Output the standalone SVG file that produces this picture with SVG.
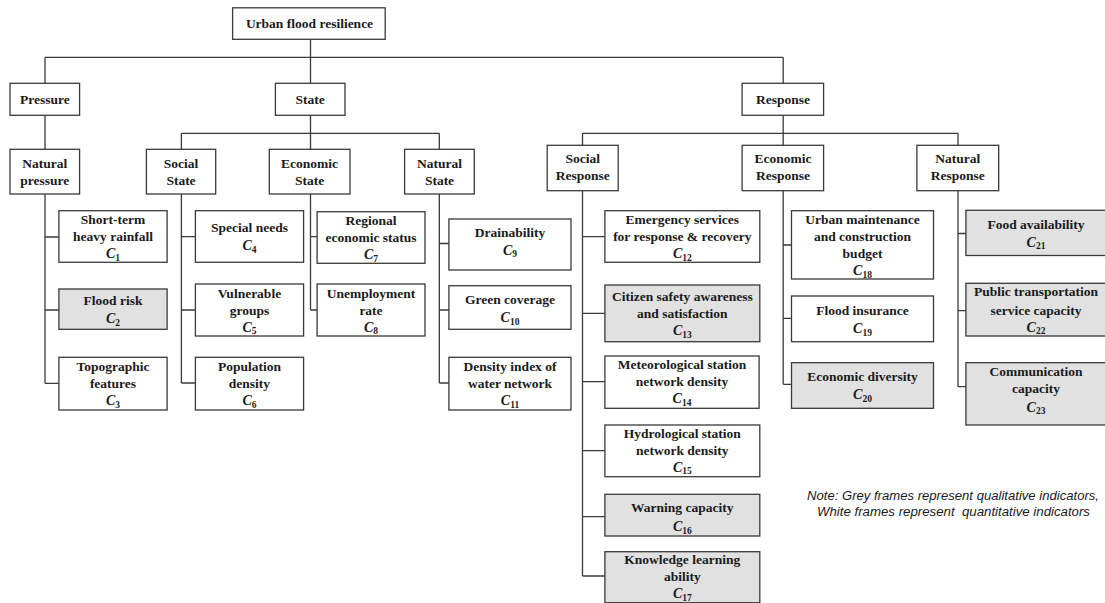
<svg xmlns="http://www.w3.org/2000/svg" width="1105" height="603" viewBox="0 0 1105 603">
  <style>
    .box { fill: #ffffff; stroke: #3a3a3a; stroke-width: 1.3; }
    .grey { fill: #e1e1e1; }
    .lbl { font-family: "Liberation Serif", "Times New Roman", serif; font-weight: bold; font-size: 13.5px; fill: #1a1a1a; text-anchor: middle; }
    .ci { font-style: italic; font-size: 14px; }
    .sub { font-size: 9.5px; font-style: normal; }
    .conn { fill: none; stroke: #3a3a3a; stroke-width: 1.3; }
    .note { font-family: "Liberation Sans", Arial, sans-serif; font-style: italic; font-size: 12.5px; fill: #1a1a1a; text-anchor: middle; }
  </style>

  <rect width="1105" height="603" fill="#ffffff"/>

  <!-- tree connectors -->
  <g id="connectors" class="conn">
    <path d="M310.5 39.3 V57.3 M45 57.3 H783.2 M45 57.3 V83.3 M310.5 57.3 V83.3 M783.2 57.3 V83.3"/>
    <path d="M45 115.3 V149.3"/>
    <path d="M310.5 115.3 V133.3 M181.4 133.3 H439.3 M181.4 133.3 V149.3 M310.5 133.3 V149.3 M439.3 133.3 V149.3"/>
    <path d="M783.2 115.3 V133.3 M582.5 133.3 H958 M582.5 133.3 V145.3 M783.2 133.3 V145.3 M958 133.3 V145.3"/>
    <path d="M45 194 V383.3 M45 237 H58.9 M45 310 H58.9 M45 383.3 H58.9"/>
    <path d="M181.4 194 V383 M181.4 236.7 H195.4 M181.4 310 H195.4 M181.4 383 H195.4"/>
    <path d="M310.5 194 V310 M310.5 236.7 H317.1 M310.5 310 H317.1"/>
    <path d="M439.3 194 V383 M439.3 243.5 H448.9 M439.3 310 H448.9 M439.3 383 H448.9"/>
    <path d="M582.5 190.7 V576 M582.5 236.7 H604.9 M582.5 313.3 H604.9 M582.5 381.7 H604.9 M582.5 450.7 H604.9 M582.5 516.7 H604.9 M582.5 576 H604.9"/>
    <path d="M783.2 190.7 V384.3 M783.2 245 H791.5 M783.2 318.3 H791.5 M783.2 384.3 H791.5"/>
    <path d="M958 190.7 V386.7 M958 233.5 H965.9 M958 310.7 H965.9 M958 386.7 H965.9"/>
  </g>

  <!-- goal -->
  <g id="root">
    <rect class="box" x="232.6" y="7.8" width="152.6" height="31.5"/>
    <text class="lbl" x="309.5" y="28.3">Urban flood resilience</text>
  </g>

  <!-- criteria -->
  <g id="pressure">
    <rect class="box" x="10" y="83.3" width="69.6" height="32"/>
    <text class="lbl" x="44.8" y="104">Pressure</text>
  </g>
  <g id="state">
    <rect class="box" x="275.4" y="83.3" width="69.6" height="32"/>
    <text class="lbl" x="310.2" y="104">State</text>
  </g>
  <g id="response">
    <rect class="box" x="742.1" y="83.3" width="81.5" height="32"/>
    <text class="lbl" x="782.9" y="104">Response</text>
  </g>

  <!-- sub-criteria -->
  <g id="natural-pressure">
    <rect class="box" x="10" y="149.3" width="69.6" height="44.7"/>
    <text class="lbl" x="44.8" y="168"><tspan x="44.8">Natural</tspan><tspan x="44.8" dy="16.7">pressure</tspan></text>
  </g>
  <g id="social-state">
    <rect class="box" x="146.4" y="149.3" width="69.3" height="44.7"/>
    <text class="lbl" x="181" y="168"><tspan x="181">Social</tspan><tspan x="181" dy="16.7">State</tspan></text>
  </g>
  <g id="economic-state">
    <rect class="box" x="269.3" y="149.3" width="80.7" height="44.7"/>
    <text class="lbl" x="309.6" y="168"><tspan x="309.6">Economic</tspan><tspan x="309.6" dy="16.7">State</tspan></text>
  </g>
  <g id="natural-state">
    <rect class="box" x="404.6" y="149.3" width="69.7" height="44.7"/>
    <text class="lbl" x="439.5" y="168"><tspan x="439.5">Natural</tspan><tspan x="439.5" dy="16.7">State</tspan></text>
  </g>
  <g id="social-response">
    <rect class="box" x="547.2" y="145.3" width="71" height="45.4"/>
    <text class="lbl" x="582.7" y="163.4"><tspan x="582.7">Social</tspan><tspan x="582.7" dy="16.7">Response</tspan></text>
  </g>
  <g id="economic-response">
    <rect class="box" x="742.1" y="145.3" width="81.5" height="45.4"/>
    <text class="lbl" x="782.9" y="163.4"><tspan x="782.9">Economic</tspan><tspan x="782.9" dy="16.7">Response</tspan></text>
  </g>
  <g id="natural-response">
    <rect class="box" x="916.9" y="145.3" width="81.8" height="45.4"/>
    <text class="lbl" x="957.8" y="163.4"><tspan x="957.8">Natural</tspan><tspan x="957.8" dy="16.7">Response</tspan></text>
  </g>

  <!-- indicators: Natural pressure -->
  <g id="c1">
    <rect class="box" x="58.9" y="210.7" width="108.2" height="51.6"/>
    <text class="lbl" x="113" y="224"><tspan x="113">Short-term</tspan><tspan x="113" dy="17">heavy rainfall</tspan></text>
    <text class="lbl" x="113" y="258"><tspan class="ci">C</tspan><tspan class="sub" dy="2.5">1</tspan></text>
  </g>
  <g id="c2">
    <rect class="box grey" x="58.9" y="289" width="108.2" height="40.3"/>
    <text class="lbl" x="113" y="304.5">Flood risk</text>
    <text class="lbl" x="113" y="323"><tspan class="ci">C</tspan><tspan class="sub" dy="2.5">2</tspan></text>
  </g>
  <g id="c3">
    <rect class="box" x="58.9" y="357.3" width="108.2" height="52.7"/>
    <text class="lbl" x="113" y="370.5"><tspan x="113">Topographic</tspan><tspan x="113" dy="17.5">features</tspan></text>
    <text class="lbl" x="113" y="405"><tspan class="ci">C</tspan><tspan class="sub" dy="2.5">3</tspan></text>
  </g>

  <!-- indicators: Social state -->
  <g id="c4">
    <rect class="box" x="195.4" y="210.7" width="108.2" height="51.6"/>
    <text class="lbl" x="249.5" y="232">Special needs</text>
    <text class="lbl" x="249.5" y="250"><tspan class="ci">C</tspan><tspan class="sub" dy="2.5">4</tspan></text>
  </g>
  <g id="c5">
    <rect class="box" x="195.4" y="284" width="108.2" height="52"/>
    <text class="lbl" x="249.5" y="297.5"><tspan x="249.5">Vulnerable</tspan><tspan x="249.5" dy="17">groups</tspan></text>
    <text class="lbl" x="249.5" y="331.5"><tspan class="ci">C</tspan><tspan class="sub" dy="2.5">5</tspan></text>
  </g>
  <g id="c6">
    <rect class="box" x="195.4" y="357.3" width="108.2" height="52.7"/>
    <text class="lbl" x="249.5" y="370.5"><tspan x="249.5">Population</tspan><tspan x="249.5" dy="17.5">density</tspan></text>
    <text class="lbl" x="249.5" y="405"><tspan class="ci">C</tspan><tspan class="sub" dy="2.5">6</tspan></text>
  </g>

  <!-- indicators: Economic state -->
  <g id="c7">
    <rect class="box" x="317.1" y="211.7" width="107.9" height="51.6"/>
    <text class="lbl" x="371" y="224.8"><tspan x="371">Regional</tspan><tspan x="371" dy="16.7">economic status</tspan></text>
    <text class="lbl" x="371" y="259"><tspan class="ci">C</tspan><tspan class="sub" dy="2.5">7</tspan></text>
  </g>
  <g id="c8">
    <rect class="box" x="317.1" y="284" width="107.9" height="52"/>
    <text class="lbl" x="371" y="297.5"><tspan x="371">Unemployment</tspan><tspan x="371" dy="17">rate</tspan></text>
    <text class="lbl" x="371" y="331.5"><tspan class="ci">C</tspan><tspan class="sub" dy="2.5">8</tspan></text>
  </g>

  <!-- indicators: Natural state -->
  <g id="c9">
    <rect class="box" x="448.9" y="219" width="122.1" height="51"/>
    <text class="lbl" x="510" y="236.5">Drainability</text>
    <text class="lbl" x="510" y="254.5"><tspan class="ci">C</tspan><tspan class="sub" dy="2.5">9</tspan></text>
  </g>
  <g id="c10">
    <rect class="box" x="448.9" y="285.7" width="122.1" height="43.6"/>
    <text class="lbl" x="510" y="304">Green coverage</text>
    <text class="lbl" x="510" y="322"><tspan class="ci">C</tspan><tspan class="sub" dy="2.5">10</tspan></text>
  </g>
  <g id="c11">
    <rect class="box" x="448.9" y="357.3" width="122.1" height="52.7"/>
    <text class="lbl" x="510" y="370.5"><tspan x="510">Density index of</tspan><tspan x="510" dy="17.5">water network</tspan></text>
    <text class="lbl" x="510" y="405"><tspan class="ci">C</tspan><tspan class="sub" dy="2.5">11</tspan></text>
  </g>

  <!-- indicators: Social response -->
  <g id="c12">
    <rect class="box" x="604.9" y="210.7" width="154.9" height="51.6"/>
    <text class="lbl" x="682.3" y="224"><tspan x="682.3">Emergency services</tspan><tspan x="682.3" dy="17">for response &amp; recovery</tspan></text>
    <text class="lbl" x="682.3" y="258"><tspan class="ci">C</tspan><tspan class="sub" dy="2.5">12</tspan></text>
  </g>
  <g id="c13">
    <rect class="box grey" x="604.9" y="285" width="154.9" height="56.7"/>
    <text class="lbl" x="682.3" y="301.3"><tspan x="682.3">Citizen safety awareness</tspan><tspan x="682.3" dy="16.7">and satisfaction</tspan></text>
    <text class="lbl" x="682.3" y="335"><tspan class="ci">C</tspan><tspan class="sub" dy="2.5">13</tspan></text>
  </g>
  <g id="c14">
    <rect class="box" x="604.9" y="356" width="154.2" height="52.3"/>
    <text class="lbl" x="682" y="368.8"><tspan x="682">Meteorological station</tspan><tspan x="682" dy="17.5">network density</tspan></text>
    <text class="lbl" x="682" y="403.3"><tspan class="ci">C</tspan><tspan class="sub" dy="2.5">14</tspan></text>
  </g>
  <g id="c15">
    <rect class="box" x="604.9" y="425" width="154.9" height="51.7"/>
    <text class="lbl" x="682.3" y="438"><tspan x="682.3">Hydrological station</tspan><tspan x="682.3" dy="16.7">network density</tspan></text>
    <text class="lbl" x="682.3" y="471.5"><tspan class="ci">C</tspan><tspan class="sub" dy="2.5">15</tspan></text>
  </g>
  <g id="c16">
    <rect class="box grey" x="604.9" y="494.3" width="154.9" height="41.7"/>
    <text class="lbl" x="682.3" y="512">Warning capacity</text>
    <text class="lbl" x="682.3" y="531"><tspan class="ci">C</tspan><tspan class="sub" dy="2.5">16</tspan></text>
  </g>
  <g id="c17">
    <rect class="box grey" x="604.9" y="551.7" width="154.9" height="51"/>
    <text class="lbl" x="682.3" y="564"><tspan x="682.3">Knowledge learning</tspan><tspan x="682.3" dy="17.3">ability</tspan></text>
    <text class="lbl" x="682.3" y="598.3"><tspan class="ci">C</tspan><tspan class="sub" dy="2.5">17</tspan></text>
  </g>

  <!-- indicators: Economic response -->
  <g id="c18">
    <rect class="box" x="791.5" y="210.7" width="142" height="68.3"/>
    <text class="lbl" x="862.5" y="224"><tspan x="862.5">Urban maintenance</tspan><tspan x="862.5" dy="17.3">and construction</tspan><tspan x="862.5" dy="16.7">budget</tspan></text>
    <text class="lbl" x="862.5" y="275"><tspan class="ci">C</tspan><tspan class="sub" dy="2.5">18</tspan></text>
  </g>
  <g id="c19">
    <rect class="box" x="791.5" y="296" width="142" height="45.7"/>
    <text class="lbl" x="862.5" y="314.5">Flood insurance</text>
    <text class="lbl" x="862.5" y="333"><tspan class="ci">C</tspan><tspan class="sub" dy="2.5">19</tspan></text>
  </g>
  <g id="c20">
    <rect class="box grey" x="791.5" y="362.7" width="142" height="45.6"/>
    <text class="lbl" x="862.5" y="381.3">Economic diversity</text>
    <text class="lbl" x="862.5" y="399"><tspan class="ci">C</tspan><tspan class="sub" dy="2.5">20</tspan></text>
  </g>

  <!-- indicators: Natural response -->
  <g id="c21">
    <rect class="box grey" x="965.9" y="210.3" width="142" height="45.2"/>
    <text class="lbl" x="1036" y="228.6">Food availability</text>
    <text class="lbl" x="1036" y="246.5"><tspan class="ci">C</tspan><tspan class="sub" dy="2.5">21</tspan></text>
  </g>
  <g id="c22">
    <rect class="box grey" x="965.9" y="283.3" width="142" height="52.7"/>
    <text class="lbl" x="1036" y="296.3"><tspan x="1036">Public transportation</tspan><tspan x="1036" dy="18.3">service capacity</tspan></text>
    <text class="lbl" x="1036" y="331.5"><tspan class="ci">C</tspan><tspan class="sub" dy="2.5">22</tspan></text>
  </g>
  <g id="c23">
    <rect class="box grey" x="965.9" y="362.7" width="142" height="62.3"/>
    <text class="lbl" x="1036" y="376.3"><tspan x="1036">Communication</tspan><tspan x="1036" dy="16.7">capacity</tspan></text>
    <text class="lbl" x="1036" y="411.5"><tspan class="ci">C</tspan><tspan class="sub" dy="2.5">23</tspan></text>
  </g>

  <!-- legend note -->
  <g id="note">
    <text class="note" x="953" y="499.5" textLength="292" lengthAdjust="spacingAndGlyphs">Note: Grey frames represent qualitative indicators,</text>
    <text class="note" x="953.5" y="516" xml:space="preserve" textLength="273" lengthAdjust="spacingAndGlyphs">White frames represent  quantitative indicators</text>
  </g>
</svg>
